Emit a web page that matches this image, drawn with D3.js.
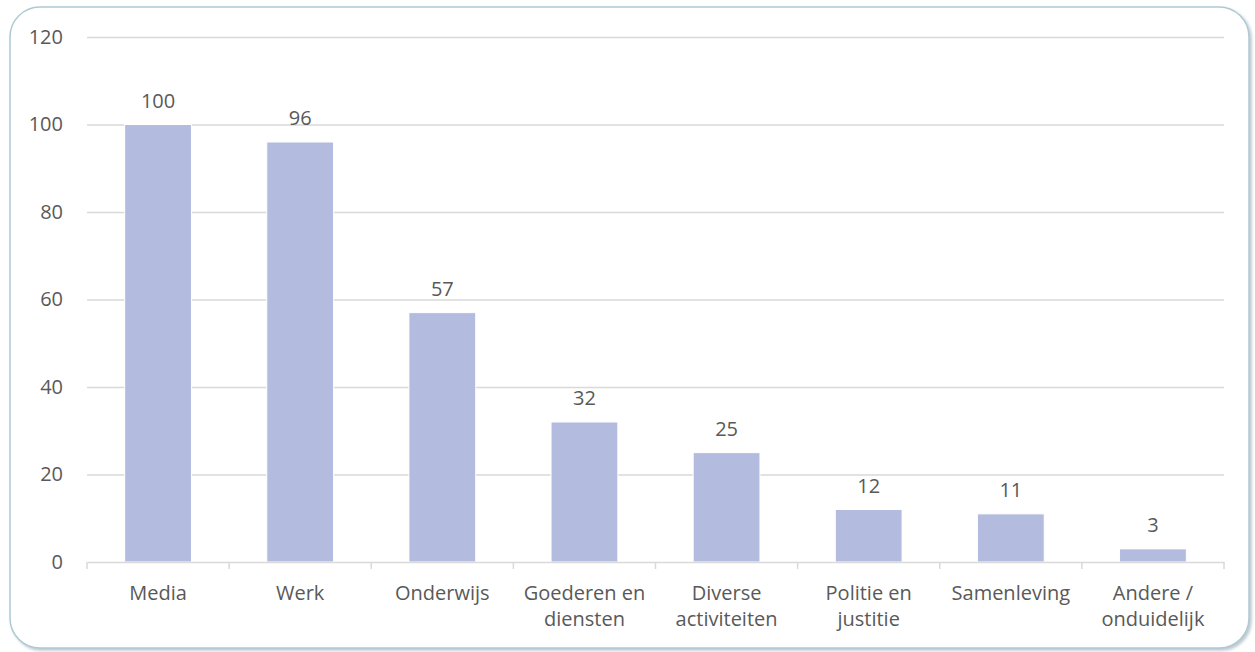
<!DOCTYPE html>
<html>
<head>
<meta charset="utf-8">
<script src="https://cdn.jsdelivr.net/npm/d3@7"></script>
<style>
  body { margin: 0; background: #fff; }
  svg { display: block; }
  text { font-family: "Open Sans", sans-serif; fill: #595959; }
</style>
</head>
<body>
<div id="chart"></div>
<script>
// data
var categories = ["Media", "Werk", "Onderwijs", "Goederen en diensten", "Diverse activiteiten",
    "Politie en justitie", "Samenleving", "Andere / onduidelijk"];
var values = [100, 96, 57, 32, 25, 12, 11, 3];
var yTicks = [0, 20, 40, 60, 80, 100, 120];

var W = 1255, H = 652;
var margin = { top: 37, right: 31, bottom: 90, left: 87 };
var width = W - margin.left - margin.right,
    height = H - margin.top - margin.bottom;

var svg = d3.select("#chart").append("svg")
    .attr("width", W)
    .attr("height", H);

// shadow for the frame
var defs = svg.append("defs");
var f = defs.append("filter").attr("id", "shadow")
    .attr("x", "-5%").attr("y", "-5%").attr("width", "110%").attr("height", "110%");
f.append("feDropShadow")
    .attr("dx", 2).attr("dy", 2).attr("stdDeviation", 1.5)
    .attr("flood-color", "#8fa3ad").attr("flood-opacity", 0.6);

svg.append("rect")
    .attr("x", 10).attr("y", 7)
    .attr("width", 1239).attr("height", 641)
    .attr("rx", 30).attr("ry", 30)
    .attr("fill", "#fff")
    .attr("stroke", "#aecad6")
    .attr("stroke-width", 1.5)
    .attr("filter", "url(#shadow)");

var g = svg.append("g")
    .attr("transform", "translate(" + margin.left + "," + margin.top + ")");

var x = d3.scaleBand()
    .domain(categories)
    .range([0, width])
    .paddingInner(0.53)
    .paddingOuter(0.265);

var y = d3.scaleLinear()
    .domain([0, 120])
    .range([height, 0]);

// gridlines + y labels
var yAxis = g.append("g")
    .call(d3.axisLeft(y).tickValues(yTicks).tickSize(-width).tickFormat(d3.format("d")));
yAxis.select(".domain").remove();
yAxis.selectAll(".tick line")
    .attr("stroke", "#d9d9d9")
    .attr("stroke-width", 1.5)
    .attr("opacity", function(d){ return d === 0 ? 0 : 1; });
yAxis.selectAll(".tick text")
    .attr("x", -24)
    .attr("font-size", 20)
    .style("fill", "#595959");

// bars
g.selectAll("rect.bar")
    .data(values)
    .enter().append("rect")
    .attr("class", "bar")
    .attr("x", function(d, i){ return x(categories[i]); })
    .attr("y", function(d){ return y(d); })
    .attr("width", x.bandwidth())
    .attr("height", function(d){ return height - y(d); })
    .attr("fill", "#b3bbdf")
    .attr("stroke", "#fff")
    .attr("stroke-width", 1);

// value labels
g.selectAll("text.val")
    .data(values)
    .enter().append("text")
    .attr("class", "val")
    .attr("x", function(d, i){ return x(categories[i]) + x.bandwidth() / 2; })
    .attr("y", function(d){ return y(d) - 17; })
    .attr("text-anchor", "middle")
    .attr("font-size", 20)
    .text(function(d){ return d; });

// x axis
var xAxis = g.append("g")
    .attr("transform", "translate(0," + height + ")")
    .call(d3.axisBottom(x).tickSize(0).tickPadding(0));
xAxis.select(".domain")
    .attr("stroke", "#d9d9d9")
    .attr("stroke-width", 1.5);

// boundary ticks between categories
var step = x.step();
var bounds = categories.map(function(c){ return x(c) + x.bandwidth() / 2 - step / 2; });
bounds.push(width);
xAxis.selectAll("line.bound")
    .data(bounds)
    .enter().append("line")
    .attr("class", "bound")
    .attr("x1", function(d){ return d; })
    .attr("x2", function(d){ return d; })
    .attr("y1", 0)
    .attr("y2", 7)
    .attr("stroke", "#d9d9d9")
    .attr("stroke-width", 1.5);

xAxis.selectAll(".tick text")
    .attr("font-size", 20)
    .style("fill", "#595959")
    .call(wrap, step - 6);

function wrap(sel, maxW) {
    sel.each(function(){
        var t = d3.select(this),
            words = t.text().split(/\s+/),
            line = [],
            lineNo = 0;
        t.text(null).attr("y", null).attr("dy", null);
        var ts = t.append("tspan").attr("x", 0).attr("y", 38);
        words.forEach(function(w){
            line.push(w);
            ts.text(line.join(" "));
            if (ts.node().getComputedTextLength() > maxW && line.length > 1) {
                line.pop();
                ts.text(line.join(" "));
                line = [w];
                lineNo++;
                ts = t.append("tspan").attr("x", 0).attr("y", 38 + lineNo * 26).text(w);
            }
        });
    });
}
</script>
</body>
</html>
